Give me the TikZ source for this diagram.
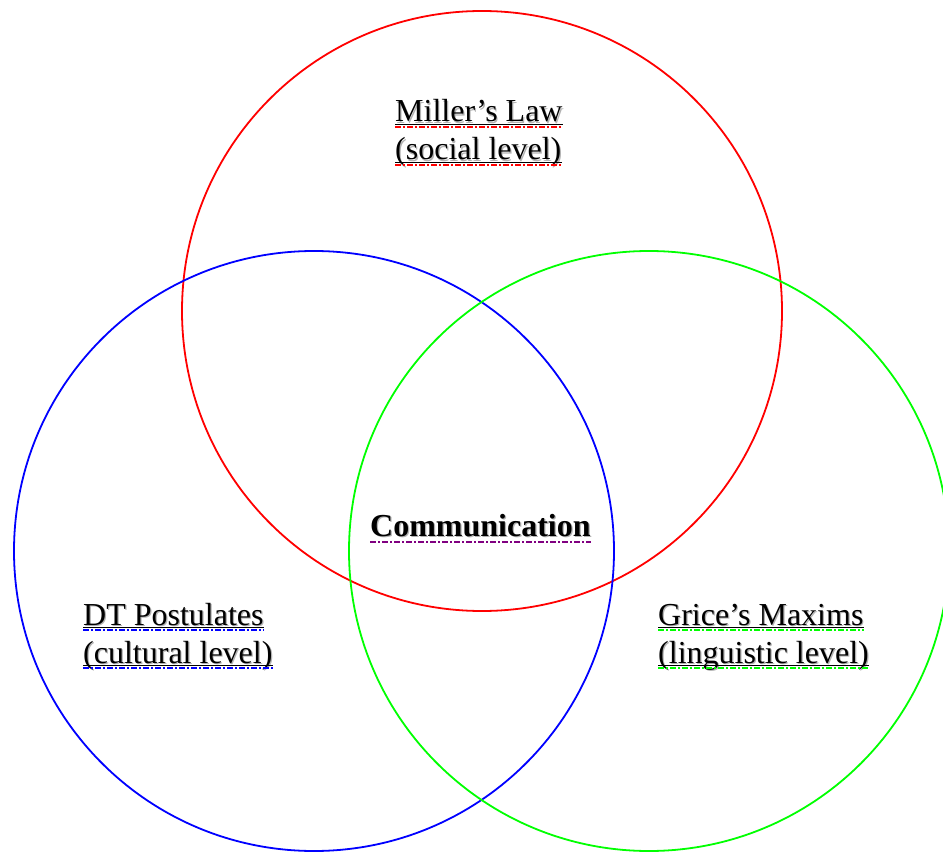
\documentclass[tikz,border=0pt]{standalone}
\usepackage{fontspec}
\setmainfont{Liberation Serif}
\begin{document}
\begin{tikzpicture}[x=1pt,y=-1pt,
  ring/.style={line width=1.8pt},
  lbl/.style={anchor=base west, inner sep=0pt, font=\fontsize{32}{38}\selectfont},
  shade/.style={lbl, text=black!30},
  blackul/.style={line width=0.7pt, black},
  colul/.style={line width=2.2pt, dash pattern=on 6pt off 2pt on 2pt off 2pt}
]
\useasboundingbox (0,0) rectangle (943,853);
\begin{scope}
\clip (0,0) rectangle (943,853);
\draw[ring, red] (482,311) circle[radius=300];
\draw[ring, blue] (314,551) circle[radius=300];
\draw[ring, green] (649,551) circle[radius=300];
\end{scope}
\definecolor{purp}{RGB}{128,0,128}
% shadows
\node[shade] (m1s) at (396.2,123.2) {Miller’s Law};
\node[shade] (m2s) at (396.2,161.2) {(social level)};
\node[shade] (cs) at (371.2,537.2) {\bfseries Communication};
\node[shade] (d1s) at (84.2,626.2) {DT Postulates};
\node[shade] (d2s) at (84.2,664.2) {(cultural level)};
\node[shade] (g1s) at (659.2,626.2) {Grice’s Maxims};
\node[shade] (g2s) at (659.2,664.2) {(linguistic level)};
% texts
\node[lbl] (m1) at (395,122) {Miller’s Law};
\node[lbl] (m2) at (395,160) {(social level)};
\node[lbl] (c) at (370,536) {\bfseries Communication};
\node[lbl] (d1) at (83,625) {DT Postulates};
\node[lbl] (d2) at (83,663) {(cultural level)};
\node[lbl] (g1) at (658,625) {Grice’s Maxims};
\node[lbl] (g2) at (658,663) {(linguistic level)};
% underlines
\foreach \n/\col in {m1/red, m2/red, d1/blue, d2/blue, g1/green, g2/green}{
  \draw[blackul] ([yshift=-2pt]\n.base west) -- ([yshift=-2pt]\n.base east);
  \draw[colul, \col] ([yshift=-5pt]\n.base west) -- ([yshift=-5pt]\n.base east);
}
\draw[colul, purp] ([yshift=-6pt]c.base west) -- ([yshift=-6pt]c.base east);
\end{tikzpicture}
\end{document}
